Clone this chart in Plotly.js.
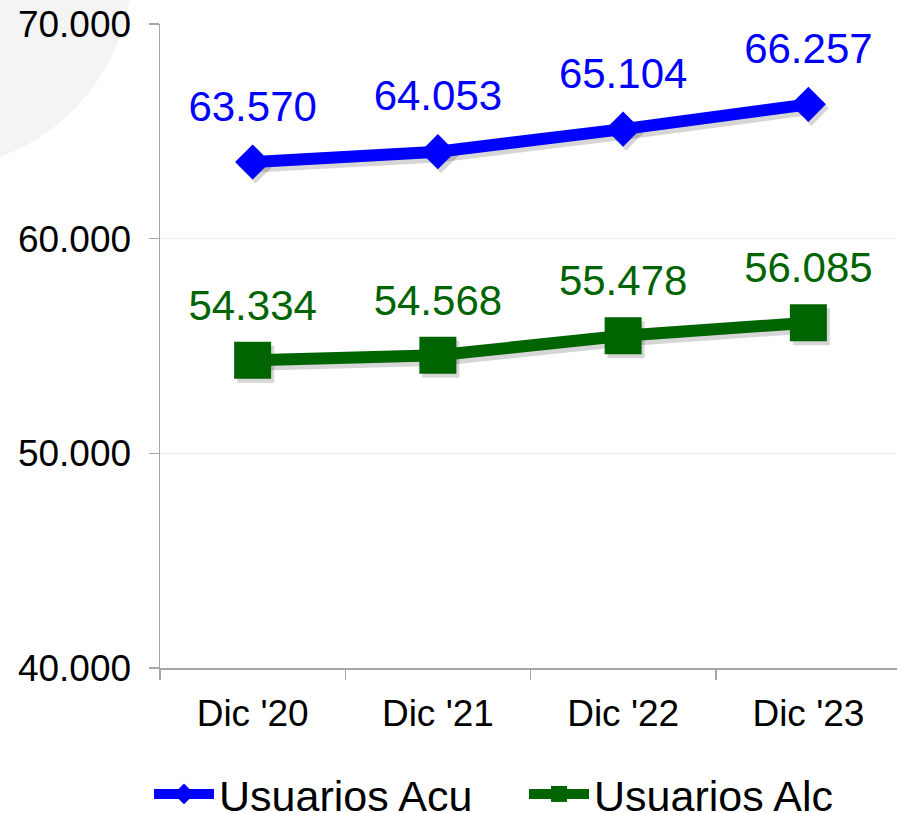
<!DOCTYPE html>
<html>
<head>
<meta charset="utf-8">
<script src="https://cdn.plot.ly/plotly-3.0.1.min.js"></script>
<style>
  html, body { margin: 0; padding: 0; background: #fff; overflow: hidden; }
  #wrap { position: relative; width: 897px; height: 813px; overflow: hidden; }
  /* soft grey disc behind the top-left corner */
  #disc { position: absolute; left: -270px; top: -233px; width: 402px; height: 402px;
          border-radius: 50%; background: #f4f4f4; }
  #chart { position: absolute; left: 0; top: 0; width: 901px; height: 813px; }
</style>
</head>
<body>
<div id="wrap">
  <div id="disc"></div>
  <div id="chart"></div>
</div>
<script>
// Chart data
const periods = ["Dic '20", "Dic '21", "Dic '22", "Dic '23"];
const usuariosAcu = [63570, 64053, 65104, 66257];
const usuariosAlc = [54334, 54568, 55478, 56085];

const BLUE = '#0000ff';
const GREEN = '#006400';
const FONT = 'Liberation Sans, Arial, sans-serif';

// plot geometry (only used to offset the drop shadow by a few pixels)
const W = 901, H = 813;
const plotW = W - 160;
const plotH = H - 24 - 145;
const xRange = [-0.5, 3.5];
const yRange = [40000, 70000];
const dx = 3 * (xRange[1] - xRange[0]) / plotW;
const dy = 4 * (yRange[1] - yRange[0]) / plotH;

function shadow(y, symbol, size) {
    return {
        x: periods, y: y, type: 'scatter', mode: 'lines+markers',
        xaxis: 'x', yaxis: 'y', hoverinfo: 'skip', showlegend: false,
        line: { color: 'rgba(0,0,0,0.16)', width: 13 },
        marker: { symbol: symbol, size: size, color: 'rgba(0,0,0,0.16)' }
    };
}

function series(name, y, color, symbol, size, legendId) {
    return {
        x: periods, y: y, name: name, type: 'scatter', mode: 'lines+markers',
        xaxis: 'x2', yaxis: 'y2', legend: legendId,
        line: { color: color, width: 12 },
        marker: { symbol: symbol, size: size, color: color }
    };
}

// value labels, lifted above the markers by an invisible larger marker
function labels(y, color, pad) {
    return {
        x: periods, y: y, type: 'scatter', mode: 'markers+text',
        xaxis: 'x2', yaxis: 'y2', showlegend: false, hoverinfo: 'skip',
        marker: { size: pad, opacity: 0 },
        text: y, texttemplate: '%{y:,d}', textposition: 'top center',
        textfont: { family: FONT, size: 42, color: color }
    };
}

const data = [
    shadow(usuariosAcu, 'diamond', 27),
    shadow(usuariosAlc, 'square', 37),
    series('Usuarios Acu', usuariosAcu, BLUE, 'diamond', 27, 'legend'),
    series('Usuarios Alc', usuariosAlc, GREEN, 'square', 37, 'legend2'),
    labels(usuariosAcu, BLUE, 48),
    labels(usuariosAlc, GREEN, 46)
];

function legendAt(left) {
    return {
        orientation: 'h', xref: 'container', yref: 'container',
        x: left / W, xanchor: 'left', y: 1 - 794 / H, yanchor: 'middle',
        font: { family: FONT, size: 43, color: '#000' },
        itemwidth: 60, bgcolor: 'rgba(0,0,0,0)'
    };
}

const layout = {
    width: W, height: H,
    margin: { l: 160, r: 0, t: 24, b: 145 },
    paper_bgcolor: 'rgba(0,0,0,0)',
    plot_bgcolor: 'rgba(0,0,0,0)',
    separators: ',.',
    font: { family: FONT, color: '#000' },
    showlegend: true,
    legend: legendAt(149),
    legend2: legendAt(524),
    // hidden axes, shifted a few px, carry the shadow
    xaxis: { type: 'category', range: [xRange[0] - dx, xRange[1] - dx], visible: false, fixedrange: true },
    yaxis: { range: [yRange[0] + dy, yRange[1] + dy], visible: false, fixedrange: true },
    // visible axes
    xaxis2: {
        type: 'category', overlaying: 'x', anchor: 'y2', range: xRange,
        showline: true, linecolor: '#a6a6a6', linewidth: 1.5,
        ticks: 'outside', tickson: 'boundaries', ticklen: 10, tickcolor: '#a6a6a6', tickwidth: 1.5,
        ticklabelstandoff: 12,
        tickfont: { family: FONT, size: 37, color: '#000' },
        showgrid: false, zeroline: false
    },
    yaxis2: {
        overlaying: 'y', anchor: 'x2', range: yRange,
        tickvals: [40000, 50000, 60000, 70000], tickformat: ',d',
        showline: true, linecolor: '#a6a6a6', linewidth: 1.5,
        ticks: 'outside', ticklen: 10, tickcolor: '#a6a6a6', tickwidth: 1.5,
        ticklabelstandoff: 10,
        tickfont: { family: FONT, size: 37, color: '#000' },
        showgrid: true, gridcolor: '#ececec', gridwidth: 1, zeroline: false
    }
};

Plotly.newPlot('chart', data, layout, { displayModeBar: false, staticPlot: true });
</script>
</body>
</html>
